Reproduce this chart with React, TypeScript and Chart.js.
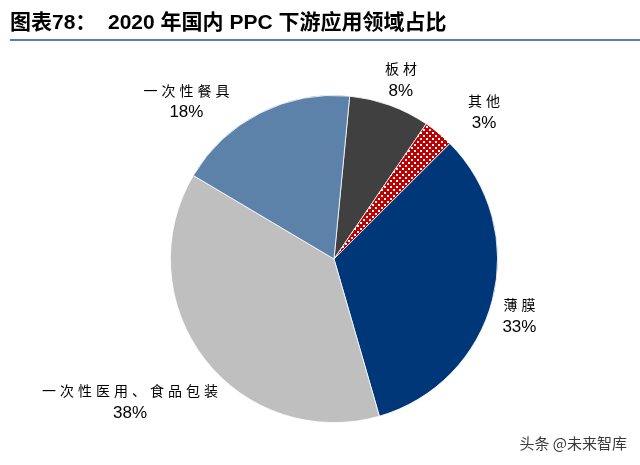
import React, { useEffect, useRef } from "react";
import { Chart, registerables } from "chart.js";

Chart.register(...registerables);

const categories = ["板材", "其他", "薄膜", "一次性医用、食品包装", "一次性餐具"];
const shares = [8, 3, 33, 38, 18];
const shareLabels = ["8%", "3%", "33%", "38%", "18%"];
const titlePrefix = "图表78：";
const titleText = "2020 年国内 PPC 下游应用领域占比";
const watermark = "头条 @未来智库";

// layout (not data): label anchor distance from centre and angle tweak (deg)
const labelDist = [191, 210, 194, 249, 216];
const labelAngleTweak = [0.6, 5.9, 2.6, 2.7, -16.2];

function makeDotPattern(): CanvasPattern | string {
  const c = document.createElement("canvas");
  c.width = 6;
  c.height = 6;
  const g = c.getContext("2d");
  if (!g) return "#C00000";
  g.fillStyle = "#C00000";
  g.fillRect(0, 0, 6, 6);
  g.fillStyle = "#FFFFFF";
  g.fillRect(0, 0, 2, 2);
  g.fillRect(3, 3, 2, 2);
  const ctx = document.createElement("canvas").getContext("2d");
  const p = ctx ? ctx.createPattern(c, "repeat") : null;
  return p || "#C00000";
}

const decorPlugin = {
  id: "decor",
  afterDraw(chart: any) {
    const ctx: CanvasRenderingContext2D = chart.ctx;
    ctx.save();
    // title
    ctx.fillStyle = "#000";
    ctx.textBaseline = "middle";
    ctx.textAlign = "left";
    ctx.font = 'bold 21px "Liberation Sans", "Noto Sans CJK SC"';
    ctx.fillText(titlePrefix, 10, 23);
    ctx.fillText(titleText, 108, 23);
    // rule under title
    ctx.strokeStyle = "#5A7DB4";
    ctx.lineWidth = 2;
    ctx.beginPath();
    ctx.moveTo(10, 40);
    ctx.lineTo(640, 40);
    ctx.stroke();

    // labels
    const meta = chart.getDatasetMeta(0);
    meta.data.forEach((arc: any, i: number) => {
      const mid = (arc.startAngle + arc.endAngle) / 2 + (labelAngleTweak[i] * Math.PI) / 180;
      const x = arc.x + labelDist[i] * Math.cos(mid);
      const y = arc.y + labelDist[i] * Math.sin(mid);
      ctx.textAlign = "center";
      ctx.textBaseline = "middle";
      ctx.fillStyle = "#000";
      ctx.font = '14px "Noto Sans CJK SC"';
      (ctx as any).letterSpacing = "4px";
      ctx.fillText(categories[i], x + 2, y - 11);
      (ctx as any).letterSpacing = "0px";
      ctx.font = '17px "Liberation Sans", Arial';
      ctx.fillText(shareLabels[i], x, y + 11);
    });

    // watermark
    ctx.textAlign = "right";
    ctx.textBaseline = "middle";
    ctx.font = '15px "Noto Sans CJK SC"';
    ctx.lineWidth = 3;
    ctx.strokeStyle = "rgba(255,255,255,0.9)";
    ctx.strokeText(watermark, 627, 443);
    ctx.fillStyle = "#3a3a3a";
    ctx.fillText(watermark, 627, 443);
    ctx.restore();
  },
};

export default function App() {
  const ref = useRef<HTMLCanvasElement | null>(null);
  useEffect(() => {
    if (!ref.current) return;
    const chart = new Chart(ref.current, {
      type: "pie",
      data: {
        labels: categories,
        datasets: [
          {
            data: shares,
            backgroundColor: ["#404040", makeDotPattern() as any, "#003778", "#BFBFBF", "#5D82AA"],
            borderColor: "#FFFFFF",
            borderWidth: 0.8,
          },
        ],
      },
      options: {
        responsive: false,
        animation: false,
        rotation: 5.5,
        layout: { padding: { left: 170, right: 142, top: 95, bottom: 42 } },
        plugins: {
          legend: { display: false },
          tooltip: { enabled: false },
        },
      },
      plugins: [decorPlugin],
    });
    return () => chart.destroy();
  }, []);
  return (
    <div style={{ position: "absolute", left: 0, top: 0, width: 640, height: 465, background: "#fff" }}>
      <canvas ref={ref} width={640} height={465} style={{ width: 640, height: 465 }} />
    </div>
  );
}
